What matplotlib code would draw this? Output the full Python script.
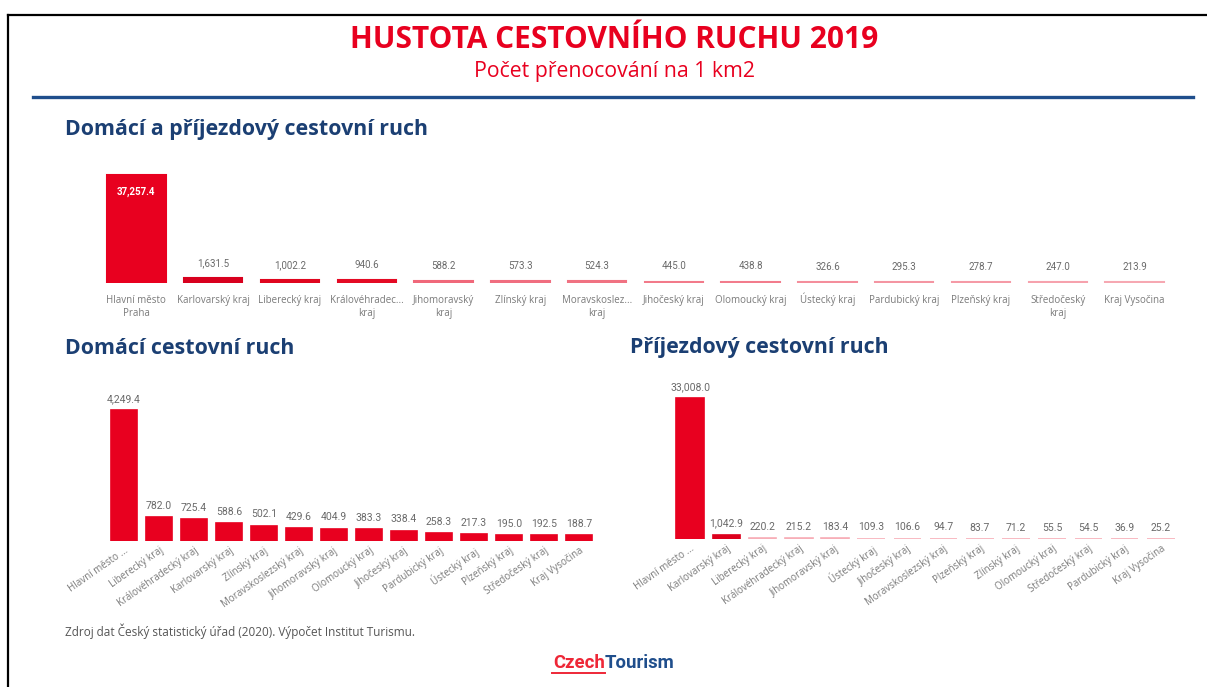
import matplotlib.pyplot as plt
from matplotlib.lines import Line2D

# Data
top_regions = ["Hlavní město\nPraha", "Karlovarský kraj", "Liberecký kraj", "Královéhradec...\nkraj",
               "Jihomoravský\nkraj", "Zlínský kraj", "Moravskoslez...\nkraj", "Jihočeský kraj",
               "Olomoucký kraj", "Ústecký kraj", "Pardubický kraj", "Plzeňský kraj",
               "Středočeský\nkraj", "Kraj Vysočina"]
top_values = [37257.4, 1631.5, 1002.2, 940.6, 588.2, 573.3, 524.3, 445.0,
              438.8, 326.6, 295.3, 278.7, 247.0, 213.9]

dom_regions = ["Hlavní město ...", "Liberecký kraj", "Královéhradecký kraj", "Karlovarský kraj",
               "Zlínský kraj", "Moravskoslezský kraj", "Jihomoravský kraj", "Olomoucký kraj",
               "Jihočeský kraj", "Pardubický kraj", "Ústecký kraj", "Plzeňský kraj",
               "Středočeský kraj", "Kraj Vysočina"]
dom_values = [4249.4, 782.0, 725.4, 588.6, 502.1, 429.6, 404.9, 383.3,
              338.4, 258.3, 217.3, 195.0, 192.5, 188.7]

inb_regions = ["Hlavní město ...", "Karlovarský kraj", "Liberecký kraj", "Královéhradecký kraj",
               "Jihomoravský kraj", "Ústecký kraj", "Jihočeský kraj", "Moravskoslezský kraj",
               "Plzeňský kraj", "Zlínský kraj", "Olomoucký kraj", "Středočeský kraj",
               "Pardubický kraj", "Kraj Vysočina"]
inb_values = [33008.0, 1042.9, 220.2, 215.2, 183.4, 109.3, 106.6, 94.7,
              83.7, 71.2, 55.5, 54.5, 36.9, 25.2]

RED = "#E8001F"
BLUE = "#1B3F73"
GRAY = "#7a7a7a"

top_colors = [RED, "#D8001E", "#E0061F", "#E40A24", "#F0687A", "#F06E80", "#F07282", "#F27A8A",
              "#F27C8C", "#F48E9C", "#F495A2", "#F59AA6", "#F6A2AD", "#F6A8B2"]
inb_colors = [RED, "#DD001D"] + ["#F7AEB7"] * 12

W, H = 1207, 687
fig = plt.figure(figsize=(W / 100, H / 100), dpi=100)
plt.rcParams['font.family'] = ['Open Sans', 'DejaVu Sans']


def fx(px):
    return px / W


def fy(py):
    return 1 - py / H


def money(v):
    return f"{v:,.1f}"


# frame and rule
fig.add_artist(Line2D([fx(8), fx(8)], [fy(15), 0], color="black", lw=1.6))
fig.add_artist(Line2D([fx(8), 1], [fy(15), fy(15)], color="black", lw=1.6))
fig.add_artist(Line2D([fx(33), fx(1193)], [fy(97), fy(97)], color="#1F4E8C", lw=2.4))

fig.text(fx(614), fy(40), "HUSTOTA CESTOVNÍHO RUCHU 2019", ha="center", va="center",
         color=RED, fontsize=21.5, fontweight="bold")
fig.text(fx(614), fy(72), "Počet přenocování na 1 km2", ha="center", va="center",
         color=RED, fontsize=15.3)

fig.text(fx(65), fy(130), "Domácí a příjezdový cestovní ruch", ha="left", va="center",
         color=BLUE, fontsize=15.4, fontweight="bold")
fig.text(fx(65), fy(348), "Domácí cestovní ruch", ha="left", va="center",
         color=BLUE, fontsize=15.4, fontweight="bold")
fig.text(fx(630), fy(348), "Příjezdový cestovní ruch", ha="left", va="center",
         color=BLUE, fontsize=15.4, fontweight="bold")


def make_ax(left, right, base, top):
    ax = fig.add_axes([fx(left), fy(base), fx(right - left), (base - top) / H])
    for s in ax.spines.values():
        s.set_visible(False)
    ax.set_yticks([])
    ax.tick_params(axis="x", length=0)
    return ax


# top chart
ax1 = make_ax(98, 1173, 283, 165)
x = range(len(top_values))
ax1.bar(x, top_values, width=0.76, color=top_colors, edgecolor=top_colors, linewidth=1.5)
ax1.set_xlim(-0.5, len(top_values) - 0.5)
ax1.set_ylim(0, top_values[0] * 118 / 108)
ax1.set_xticks([])
# category labels, line by line so every first line sits on the same baseline
for i, name in enumerate(top_regions):
    for k, line in enumerate(name.split("\n")):
        ax1.annotate(line, (i, 0), xytext=(0, -14.5 - 9.5 * k), textcoords="offset points",
                     ha="center", va="baseline", fontsize=7, color=GRAY,
                     annotation_clip=False)
for i, v in enumerate(top_values):
    if i == 0:
        ax1.annotate(money(v), (i, v), xytext=(0, -12), textcoords="offset points",
                     ha="center", va="center", fontsize=7, color="white", fontweight="bold",
                     family="Roboto")
    else:
        ax1.annotate(money(v), (i, v), xytext=(0, 11), textcoords="offset points",
                     ha="center", va="center", fontsize=7, color="#6a6a6a", family="Roboto")


def lower_chart(left, right, base, top, values, labels, colors, boxed=None):
    ax = make_ax(left, right, base, top)
    x = range(len(values))
    ax.bar(x, values, width=0.76, color=colors, edgecolor=colors, linewidth=1.2)
    ax.set_xlim(-0.5, len(values) - 0.5)
    ax.set_ylim(0, values[0] * (base - top) / (base - top - 14))
    ax.set_xticks(list(x))
    ax.set_xticklabels(labels, fontsize=7, color=GRAY, rotation=35, ha="right",
                       rotation_mode="anchor")
    ax.tick_params(axis="x", pad=3)
    for i, v in enumerate(values):
        kw = {}
        if i == boxed:
            kw["bbox"] = dict(boxstyle="square,pad=0.15", fc="white", ec="none")
        ax.annotate(money(v), (i, v), xytext=(0, 8), textcoords="offset points",
                    ha="center", va="center", fontsize=7.5, color="#6a6a6a",
                    family="Roboto", **kw)
    return ax


lower_chart(106.5, 596.5, 541, 396, dom_values, dom_regions, [RED] * len(dom_values))
lower_chart(672, 1179, 539, 384, inb_values, inb_regions, inb_colors, boxed=1)

fig.text(fx(65), fy(631), "Zdroj dat Český statistický úřad (2020). Výpočet Institut Turismu.",
         ha="left", va="center", color="#555555", fontsize=8.5)

# logo
fig.text(fx(605), fy(663), "Czech", ha="right", va="center", color="#EE2737",
         fontsize=13.3, fontweight="bold", family="Roboto")
fig.text(fx(605), fy(663), "Tourism", ha="left", va="center", color="#1F4E8C",
         fontsize=13.3, fontweight="bold", family="Roboto")
fig.add_artist(Line2D([fx(552), fx(605)], [fy(673), fy(673)], color="#EE2737", lw=1.4))

fig.savefig("out.png", dpi=100, facecolor="white")
